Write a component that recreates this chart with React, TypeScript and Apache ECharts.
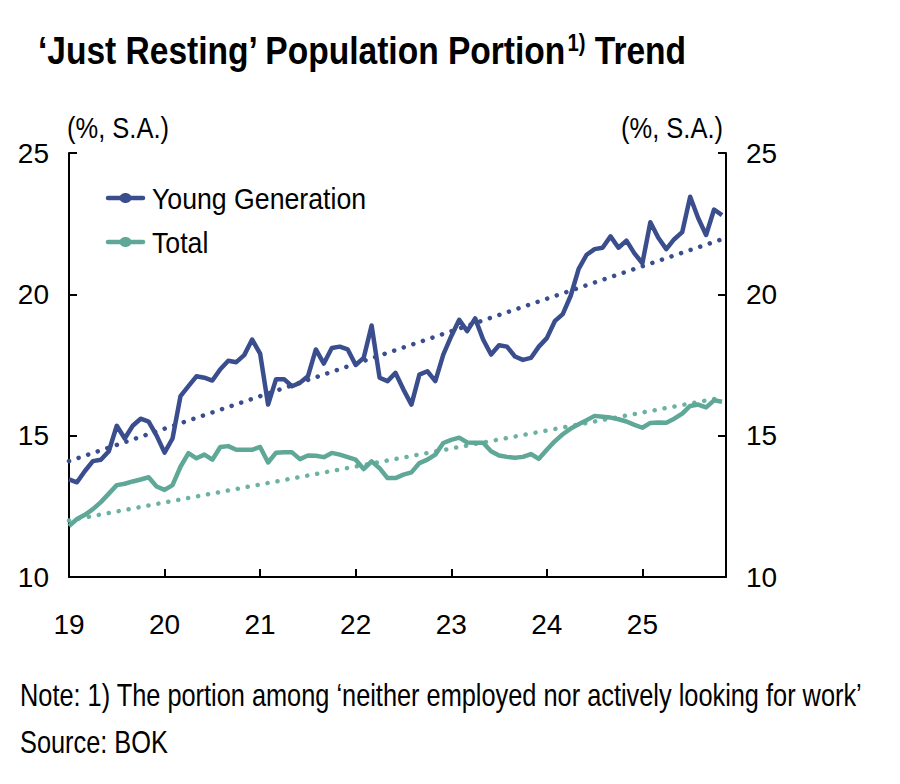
import React, { useEffect, useRef } from "react";
import * as echarts from "echarts";

// Monthly data, Jan 2019 .. Nov 2025 (%, S.A.)
const youngGeneration: number[] = [
  13.45, 13.35, 13.75, 14.1, 14.15, 14.45, 15.35, 14.9, 15.35, 15.6, 15.5, 15.0,
  14.4, 14.9, 16.4, 16.75, 17.1, 17.05, 16.95, 17.35, 17.65, 17.6, 17.85, 18.4,
  17.9, 16.1, 17.0, 17.0, 16.75, 16.87, 17.1, 18.05, 17.55, 18.1, 18.15, 18.05,
  17.5, 17.75, 18.9, 17.05, 16.93, 17.22, 16.63, 16.1, 17.16, 17.28, 16.93, 17.87,
  18.52, 19.1, 18.7, 19.15, 18.4, 17.87, 18.2, 18.15, 17.8, 17.68, 17.75, 18.15,
  18.45, 19.05, 19.3, 19.95, 20.9, 21.4, 21.6, 21.65, 22.05, 21.65, 21.9, 21.45,
  21.1, 22.55, 22.0, 21.6, 21.95, 22.2, 23.45, 22.7, 22.1, 23.0, 22.8,
];
const total: number[] = [
  11.8, 12.05, 12.2, 12.4, 12.65, 12.95, 13.25, 13.3, 13.38, 13.45, 13.53, 13.2,
  13.08, 13.25, 13.9, 14.38, 14.2, 14.33, 14.15, 14.6, 14.63, 14.5, 14.5, 14.5,
  14.6, 14.05, 14.4, 14.41, 14.41, 14.17, 14.3, 14.29, 14.24, 14.39, 14.33, 14.24,
  14.15, 13.82, 14.09, 13.85, 13.5, 13.5, 13.62, 13.7, 14.03, 14.15, 14.33, 14.74,
  14.85, 14.93, 14.76, 14.75, 14.75, 14.45, 14.3, 14.25, 14.22, 14.25, 14.35, 14.18,
  14.5, 14.8, 15.05, 15.25, 15.4, 15.55, 15.7, 15.67, 15.64, 15.58, 15.5, 15.38,
  15.28, 15.45, 15.47, 15.46, 15.6, 15.78, 16.05, 16.1, 16.0, 16.25, 16.2,
];
// Trend line end points [first month, last month]
const youngTrend: number[] = [14.1, 21.95];
const totalTrend: number[] = [12.0, 16.35];
const yearLabels: string[] = ["19", "20", "21", "22", "23", "24", "25"];
const legendNames: string[] = ["Young Generation", "Total"];
const yTicks = { min: 10, max: 25, interval: 5 };

const FONT = "'Liberation Sans', Arial, sans-serif";
const NAVY = "#3a4e8e";
const TEAL = "#5fa897";
const TEAL_DOT = "#6cb2a2";

export default function App() {
  const ref = useRef<HTMLDivElement>(null);
  useEffect(() => {
    if (!ref.current) return;
    const chart = echarts.init(ref.current, undefined, { renderer: "svg" });
    const last = youngGeneration.length - 1;
    const toPairs = (arr: number[]) => arr.map((v, i) => [i, v]);
    const axisLine = { show: true, lineStyle: { color: "#000", width: 2 } };
    const yAxisCommon = {
      type: "value",
      min: yTicks.min,
      max: yTicks.max,
      interval: yTicks.interval,
      splitLine: { show: false },
      axisLine,
      axisTick: { show: true, inside: true, length: 8, lineStyle: { color: "#000", width: 2 } },
      axisLabel: { color: "#000", fontSize: 28, fontFamily: FONT, margin: 20 },
    };
    const legendColors = [NAVY, TEAL];
    const legendY = [198, 242];
    const legendGraphics: any[] = [];
    legendNames.forEach((name, i) => {
      legendGraphics.push(
        {
          type: "line",
          shape: { x1: 108, y1: legendY[i], x2: 143, y2: legendY[i] },
          style: { stroke: legendColors[i], lineWidth: 4.5, lineCap: "round" },
        },
        {
          type: "ellipse",
          shape: { cx: 125.5, cy: legendY[i], rx: 6, ry: 5 },
          style: { fill: legendColors[i] },
        },
        {
          type: "text",
          x: 152,
          y: legendY[i],
          scaleX: 0.89,
          style: { text: name, fontSize: 30, fontFamily: FONT, fill: "#000", verticalAlign: "middle" },
        }
      );
    });
    chart.setOption({
      animation: false,
      backgroundColor: "#fff",
      grid: { left: 69, right: 174, top: 153, bottom: 207, containLabel: false },
      xAxis: {
        type: "value",
        min: 0,
        max: 82.5,
        interval: 12,
        splitLine: { show: false },
        axisLine,
        axisTick: { show: true, inside: true, length: 8, lineStyle: { color: "#000", width: 2 } },
        axisLabel: {
          color: "#000",
          fontSize: 28,
          fontFamily: FONT,
          margin: 33,
          showMaxLabel: false,
          formatter: (v: number) => {
            const k = Math.round(v / 12);
            return Math.abs(v - k * 12) < 1e-6 && yearLabels[k] ? yearLabels[k] : "";
          },
        },
      },
      yAxis: [
        { ...yAxisCommon, position: "left" },
        { ...yAxisCommon, position: "right" },
      ],
      series: [
        {
          name: "Young Generation trend",
          type: "line",
          data: [[0, youngTrend[0]], [last, youngTrend[1]]],
          showSymbol: false,
          symbol: "none",
          lineStyle: { color: NAVY, width: 4.5, type: [0.1, 10], cap: "round" },
          silent: true,
          z: 2,
        },
        {
          name: "Total trend",
          type: "line",
          data: [[0, totalTrend[0]], [last, totalTrend[1]]],
          showSymbol: false,
          symbol: "none",
          lineStyle: { color: TEAL_DOT, width: 4.5, type: [0.1, 10], cap: "round" },
          silent: true,
          z: 2,
        },
        {
          name: legendNames[0],
          type: "line",
          data: toPairs(youngGeneration),
          showSymbol: false,
          symbol: "none",
          lineStyle: { color: NAVY, width: 4.5, join: "round" },
          z: 3,
        },
        {
          name: legendNames[1],
          type: "line",
          data: toPairs(total),
          showSymbol: false,
          symbol: "none",
          lineStyle: { color: TEAL, width: 4.5, join: "round" },
          z: 3,
        },
      ],
      graphic: [
        ...legendGraphics,
        {
          type: "text",
          x: 38,
          y: 32,
          scaleX: 0.883,
          style: {
            text: "{a|‘Just Resting’ Population Portion}{s|1)}{a| Trend}",
            rich: {
              a: { fontSize: 38, fontWeight: "bold", fontFamily: FONT, fill: "#000" },
              s: { fontSize: 23, fontWeight: "bold", fontFamily: FONT, fill: "#000", verticalAlign: "top", padding: [0, 0, 16, 0] },
            },
          },
        },
        {
          type: "text",
          x: 67,
          y: 113,
          scaleX: 0.85,
          style: { text: "(%, S.A.)", fontSize: 30, fontFamily: FONT, fill: "#000" },
        },
        {
          type: "text",
          x: 621,
          y: 113,
          scaleX: 0.85,
          style: { text: "(%, S.A.)", fontSize: 30, fontFamily: FONT, fill: "#000" },
        },
        {
          type: "text",
          x: 20,
          y: 680,
          scaleX: 0.818,
          style: {
            text: "Note: 1) The portion among ‘neither employed nor actively looking for work’",
            fontSize: 31,
            fontFamily: FONT,
            fill: "#000",
          },
        },
        {
          type: "text",
          x: 20,
          y: 727,
          scaleX: 0.818,
          style: { text: "Source: BOK", fontSize: 31, fontFamily: FONT, fill: "#000" },
        },
      ],
    });
    return () => chart.dispose();
  }, []);
  return (
    <div
      ref={ref}
      style={{ position: "fixed", left: 0, top: 0, width: 900, height: 784, background: "#fff" }}
    />
  );
}
